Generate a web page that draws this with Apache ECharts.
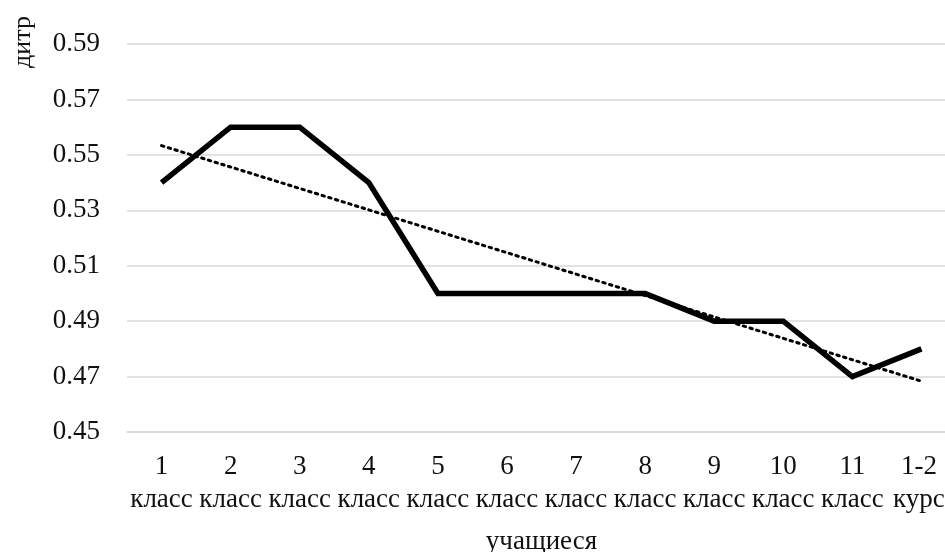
<!DOCTYPE html>
<html>
<head>
<meta charset="utf-8">
<script src="https://cdn.jsdelivr.net/npm/echarts@6/dist/echarts.min.js"></script>
<style>
  html, body { margin: 0; padding: 0; background: #ffffff; }
  #chart { width: 945px; height: 552px; }
</style>
</head>
<body>
<div id="chart"></div>
<script>
// Category labels (two lines each) and measured values
const categories = [
  '1\nкласс', '2\nкласс', '3\nкласс', '4\nкласс', '5\nкласс', '6\nкласс',
  '7\nкласс', '8\nкласс', '9\nкласс', '10\nкласс', '11\nкласс', '1-2\nкурс'
];
const values = [0.54, 0.56, 0.56, 0.54, 0.50, 0.50, 0.50, 0.50, 0.49, 0.49, 0.47, 0.48];
const yTicks = [0.45, 0.47, 0.49, 0.51, 0.53, 0.55, 0.57, 0.59];

// Linear least-squares trend over the category index
function linearTrend(ys) {
  const n = ys.length;
  let sx = 0, sy = 0, sxx = 0, sxy = 0;
  ys.forEach((y, i) => { const x = i + 1; sx += x; sy += y; sxx += x * x; sxy += x * y; });
  const slope = (n * sxy - sx * sy) / (n * sxx - sx * sx);
  const icept = (sy - slope * sx) / n;
  return ys.map((_, i) => +(icept + slope * (i + 1)).toFixed(5));
}
const trend = linearTrend(values);

// the last label sits at the right edge; nudge it inwards a little
const categoryData = categories.map((c, i) =>
  i === categories.length - 1 ? { value: c, textStyle: { padding: [0, 5, 0, 0] } } : c
);

const FONT = '"Liberation Serif", "Times New Roman", serif';
const TEXT = '#111111';
const chart = echarts.init(document.getElementById('chart'), null, { renderer: 'canvas' });

chart.setOption({
  backgroundColor: '#ffffff',
  animation: false,
  grid: { left: 127, right: -11, top: 44, bottom: 120, containLabel: false, outerBoundsMode: 'none' },
  xAxis: {
    type: 'category',
    data: categoryData,
    boundaryGap: true,
    name: 'учащиеся',
    nameLocation: 'middle',
    nameGap: 96,
    nameTextStyle: { fontFamily: FONT, fontSize: 27, color: TEXT },
    axisLine: { lineStyle: { color: '#d9d9d9', width: 1.5 } },
    axisTick: { show: false },
    axisLabel: {
      interval: 0, margin: 18, hideOverlap: false,
      fontFamily: FONT, fontSize: 27, lineHeight: 33, color: TEXT
    }
  },
  yAxis: {
    type: 'value',
    min: yTicks[0],
    max: yTicks[yTicks.length - 1],
    interval: 0.02,
    axisLine: { show: false },
    axisTick: { show: false },
    splitLine: { lineStyle: { color: '#d9d9d9', width: 1.5 } },
    axisLabel: {
      margin: 27,
      fontFamily: FONT, fontSize: 27, color: TEXT,
      formatter: v => v.toFixed(2)
    }
  },
  graphic: [{
    type: 'text',
    x: 23, y: 42,
    rotation: Math.PI / 2,
    style: {
      text: 'дитр',
      font: '26px ' + FONT,
      fill: TEXT,
      align: 'center',
      verticalAlign: 'middle'
    }
  }],
  series: [
    {
      name: 'дитр',
      type: 'line',
      data: values,
      symbol: 'none',
      lineStyle: { color: '#000000', width: 5.5, join: 'miter' },
      z: 2
    },
    {
      name: 'тренд',
      type: 'line',
      data: trend,
      symbol: 'none',
      lineStyle: { color: '#000000', width: 3, type: [2.5, 4.5], cap: 'round' },
      z: 3
    }
  ]
});
</script>
</body>
</html>
